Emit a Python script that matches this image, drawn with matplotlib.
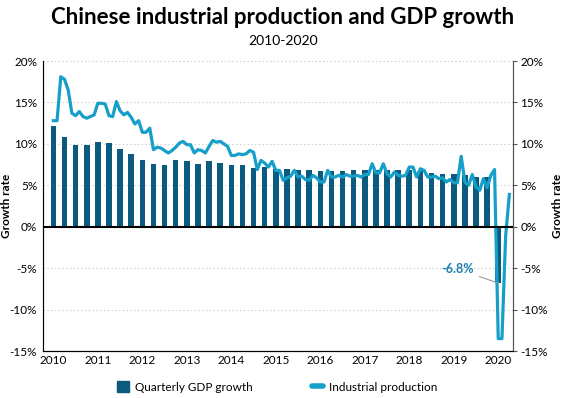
import numpy as np
import matplotlib
matplotlib.use("Agg")
import matplotlib.pyplot as plt
from matplotlib.lines import Line2D
from matplotlib.patches import Patch

plt.rcParams['font.family'] = ['Lato', 'DejaVu Sans']

bar_color = "#0b5a80"
line_color = "#159fc9"

# quarterly GDP growth, 2010Q1 .. 2020Q1
gdp = [12.2, 10.8, 9.9, 9.9,
       10.2, 10.1, 9.4, 8.8,
       8.1, 7.6, 7.5, 8.1,
       7.9, 7.6, 7.9, 7.7,
       7.4, 7.5, 7.1, 7.2,
       7.0, 7.0, 6.9, 6.8,
       6.7, 6.7, 6.7, 6.8,
       6.9, 6.9, 6.8, 6.8,
       6.8, 6.7, 6.5, 6.4,
       6.4, 6.2, 6.0, 6.0,
       -6.8]

# monthly industrial production, Jan 2010 .. Apr 2020
ip = [12.8, 12.8, 18.1, 17.8, 16.5, 13.7, 13.4, 13.9, 13.3, 13.1, 13.3, 13.5,
      14.9, 14.9, 14.8, 13.4, 13.3, 15.1, 14.0, 13.5, 13.8, 13.2, 12.4, 12.8,
      11.4, 11.4, 11.9, 9.3, 9.6, 9.5, 9.2, 8.9, 9.2, 9.6, 10.1, 10.3,
      9.9, 9.9, 8.9, 9.3, 9.2, 8.9, 9.7, 10.4, 10.2, 10.3, 10.0, 9.7,
      8.6, 8.6, 8.8, 8.7, 8.8, 9.2, 9.0, 6.9, 8.0, 7.7, 7.2, 7.9,
      6.8, 6.8, 5.6, 5.9, 6.1, 6.8, 6.0, 6.1, 5.7, 5.6, 6.2, 5.9,
      5.4, 5.4, 6.8, 6.0, 6.0, 6.2, 6.0, 6.3, 6.1, 6.1, 6.2, 6.0,
      6.3, 6.3, 7.6, 6.5, 6.5, 7.6, 6.4, 6.0, 6.6, 6.2, 6.1, 6.2,
      7.2, 7.2, 6.0, 7.0, 6.8, 6.0, 6.0, 6.1, 5.8, 5.9, 5.4, 5.7,
      5.3, 5.3, 8.5, 5.4, 5.0, 6.3, 4.8, 4.4, 5.8, 4.7, 6.2, 6.9,
      -13.5, -13.5, -1.1, 3.9]

years = list(range(2010, 2021))
yticks = [20, 15, 10, 5, 0, -5, -10, -15]

q_x = 2010 + np.arange(len(gdp)) * 0.25
m_x = 2010 + np.arange(len(ip)) / 12

fig = plt.figure(figsize=(5.66, 3.98), dpi=100)
ax = fig.add_axes([0.0754, 0.118, 0.8316, 0.7287])

for y in [20, 15, 10, 5, -5, -10]:
    ax.axhline(y, color="#cccccc", lw=0.8, ls=(0, (1.2, 2.2)), zorder=0)

ax.bar(q_x, gdp, width=0.125, color=bar_color, zorder=2)
ax.plot(m_x, ip, color=line_color, lw=2.3, zorder=3, solid_joinstyle="round")
ax.axhline(0, color="black", lw=1.5, zorder=4)

ax.set_xlim(2009.76, 2020.34)
ax.set_ylim(-15, 20)
ax.set_xticks(years)
ax.set_xticklabels([str(y) for y in years], fontsize=8.5)
ax.set_yticks(yticks)
ax.set_yticklabels([f"{y}%" for y in yticks], fontsize=8.5)
ax.tick_params(axis="x", length=0, pad=3)
ax.tick_params(axis="y", length=0, pad=4)
ax.set_ylabel("Growth rate", fontsize=8.5, fontweight="bold")
ax.yaxis.set_label_coords(-0.066, 0.5)

ax.spines["top"].set_visible(False)
ax.spines["left"].set_color("#444444")
ax.spines["right"].set_color("#555555")
ax.spines["bottom"].set_color("black")

ax2 = ax.twinx()
ax2.set_ylim(-15, 20)
ax2.set_yticks(yticks)
ax2.set_yticklabels([f"{y}%" for y in yticks], fontsize=8.5)
ax2.tick_params(axis="y", length=3, color="#555555", pad=2)
ax2.set_ylabel("Growth rate", fontsize=8.5, fontweight="bold", rotation=90)
ax2.yaxis.set_label_coords(1.082, 0.5)
ax2.spines["top"].set_visible(False)
ax2.spines["right"].set_color("#555555")

ax.annotate("-6.8%", xy=(q_x[-1], gdp[-1]), xytext=(2019.09, -5.1),
            fontsize=9, color="#1a7fae", fontweight="bold", ha="center", va="center",
            arrowprops=dict(arrowstyle="-", color="#999999", lw=0.8,
                            shrinkA=2, shrinkB=0))

fig.text(0.5, 0.955, "Chinese industrial production and GDP growth",
         ha="center", va="center", fontsize=16, fontweight="bold")
fig.text(0.5, 0.897, "2010-2020", ha="center", va="center", fontsize=10)

handles = [Patch(color=bar_color, label="Quarterly GDP growth"),
           Line2D([0], [0], color=line_color, lw=4, solid_capstyle="round",
                  label="Industrial production")]
fig.legend(handles=handles, loc="center", bbox_to_anchor=(0.49, 0.028), ncol=2,
           frameon=False, fontsize=8.5, handlelength=1.0, handleheight=1.0,
           columnspacing=5.0, handletextpad=0.5)

fig.savefig("out.png", dpi=100)
